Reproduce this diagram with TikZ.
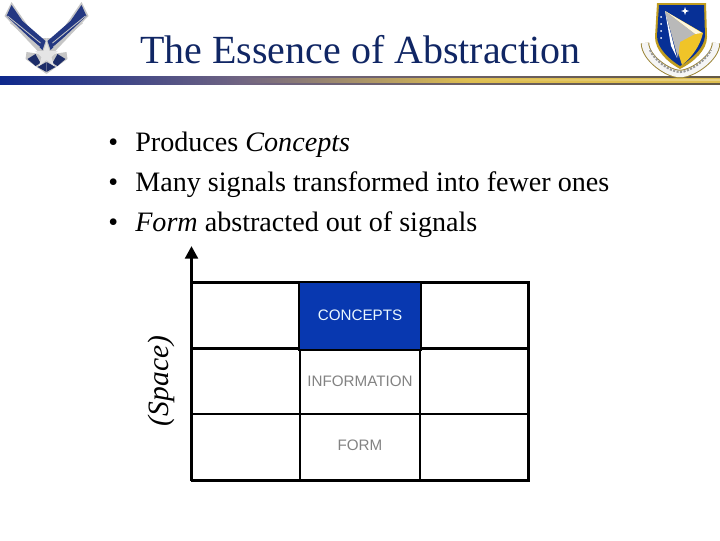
\documentclass[tikz,border=0pt]{standalone}
\usepackage{fontspec}
\setmainfont{Liberation Serif}
\setsansfont{Liberation Sans}
\usepackage{xcolor}
\usetikzlibrary{arrows.meta,positioning,calc}
\definecolor{titleblue}{RGB}{16,38,100}
\definecolor{barblue}{RGB}{14,40,140}
\definecolor{barmauve}{RGB}{112,100,130}
\definecolor{cellblue}{RGB}{8,56,176}
\definecolor{wingblue}{RGB}{36,56,130}
\definecolor{shieldgold}{RGB}{240,196,40}
\definecolor{bargold}{RGB}{222,190,80}
\definecolor{bardark}{RGB}{100,90,70}
\definecolor{labelgray}{RGB}{130,130,130}

\begin{document}
\begin{tikzpicture}[
  x=0.025cm, y=-0.025cm,
  cell/.style={draw=black, line width=1.3pt, minimum height=1.65cm, inner sep=0pt},
  side/.style={cell, minimum width=2.7cm},
  mid/.style={cell, minimum width=3cm},
  lbl/.style={inner sep=0pt, font=\sffamily\fontsize{10.8}{12}\selectfont, text=labelgray},
  item/.style={anchor=west, inner sep=0pt, font=\fontsize{20}{24}\selectfont}
]
  \useasboundingbox (0,0) rectangle (720,540);

  % header bar
  \shade[left color=barblue, right color=barmauve] (0,76) rectangle (240,84);
  \shade[left color=barmauve, right color=bargold] (240,76) rectangle (470,84);
  \fill[bargold] (470,76) rectangle (720,84);
  \shade[left color=barmauve, right color=bardark] (240,83) rectangle (720,84);
  \shade[left color=barmauve, right color=bardark] (240,76) rectangle (720,77);
  \shade[left color=bargold, right color=bargold!60!white, opacity=.8] (450,79) rectangle (720,80);
  \node[anchor=center, inner sep=0pt, text=titleblue, font=\fontsize{28.4}{32}\selectfont] (title) at (360.5,50) {The Essence of Abstraction};

  % wings
  \foreach \sgn in {1,-1} {
    \begin{scope}[shift={(46.5,0)}, xscale=\sgn]
      \fill[gray!45] (-35,2) -- (-42,16) -- (-6,54) -- (-20,52) -- (-21,59) -- (0,74) -- (0,38) -- (-10,38) -- (-24,18) -- cycle;
      \fill[wingblue] (-35,5) -- (-40,16) -- (-4,50) -- (-1,41) -- (-24,21) -- cycle;
      \draw[gray!45, line width=.6pt] (-39,16) -- (-6,43);
      \draw[gray!45, line width=.6pt] (-36,23) -- (-7,47);
      \fill[wingblue!80!black] (-19,59) -- (-11,54) -- (-6,63) -- (-11,66) -- cycle;
      \fill[wingblue!80!black] (0,72) -- (-9,67) -- (0,62) -- cycle;
    \end{scope}
  }
  \fill[gray!20] (46.5,42) -- (49.5,51) -- (58,51) -- (51.5,57) -- (54,66) -- (46.5,60) -- (39,66) -- (41.5,57) -- (35,51) -- (43.5,51) -- cycle;

  % shield
  \draw[bargold!70!black, line width=6pt] (645,43) .. controls (645,58) and (668,74) .. (680,74) .. controls (692,74) and (716,58) .. (716,43);
  \draw[gray!8, line width=4.6pt] (645,43) .. controls (645,58) and (668,74) .. (680,74) .. controls (692,74) and (716,58) .. (716,43);
  \draw[gray!80, line width=1.5pt, dash pattern=on 1.5pt off 1pt] (650,50) .. controls (654,60) and (670,72) .. (680,72) .. controls (690,72) and (706,60) .. (711,50);
  \fill[shieldgold!80!black] (657,3) -- (706,3) -- (707,37) .. controls (707,50) and (694,62) .. (680,69) .. controls (667,62) and (655,50) .. (655,37) -- cycle;
  \fill[cellblue!85!black] (659,5) -- (704,5) -- (705,36) .. controls (704,48) and (692,59) .. (680,66) .. controls (669,59) and (657,48) .. (657,36) -- cycle;
  \fill[shieldgold] (665,11) -- (703,33) .. controls (700,46) and (692,57) .. (682,65) -- cycle;
  \fill[white!85!shieldgold] (665,11) -- (702,33) -- (695,34) -- cycle;
  \fill[gray!55] (665,11) -- (695,34) -- (680,42) -- (678,58) -- cycle;
  \fill[white] (665,11) -- (677,58) -- (671,46) -- cycle;
  \fill[white] (685,7) -- (686,10) -- (689,11) -- (686,12) -- (685,15) -- (684,12) -- (681,11) -- (684,10) -- cycle;
  \foreach \yy in {17,24,31,38} {
    \fill[white] (661,\yy) circle (1);
  }

  % bullet lines
  \node[item] (bulA) at (108,145) {•};
  \node[item] (txtA) at (135,145) {Produces \textit{Concepts}};
  \node[item] (bulB) at (108,185) {•};
  \node[item] (txtB) at (135,185) {Many signals transformed into fewer ones};
  \node[item] (bulC) at (108,225) {•};
  \node[item] (txtC) at (135,225) {\textit{Form} abstracted out of signals};

  % grid of cells
  \node[side] (c11) at (246,316) {};
  \node[mid] (c12) at (360,316) {};
  \node[side] (c13) at (474,316) {};
  \node[side] (c21) at (246,381) {};
  \node[mid] (c22) at (360,381) {};
  \node[side] (c23) at (474,381) {};
  \node[side] (c31) at (246,447) {};
  \node[mid] (c32) at (360,447) {};
  \node[side] (c33) at (474,447) {};
  \draw[line width=1.9pt] (c11.north west) -- (c13.north east) -- (c33.south east) -- (c31.south west);
  \draw[line width=1.7pt, fill=cellblue] (c12.south west) rectangle (c12.north east);
  \node[lbl, text=white!92!cyan] (lblC) at (360,315) {CONCEPTS};
  \node[lbl] (lblI) at (360,381) {INFORMATION};
  \node[lbl] (lblF) at (360,445) {FORM};

  % axis
  \coordinate (axisbot) at (191.5,481);
  \coordinate (axistop) at (191.5,246);
  \draw[line width=2.8pt, -{Triangle[length=9pt,width=9pt]}] (axisbot) -- (axistop);
  \node[rotate=90, inner sep=0pt, font=\fontsize{21}{25}\selectfont\itshape] (space) at (161,381) {(Space)};
\end{tikzpicture}
\end{document}
